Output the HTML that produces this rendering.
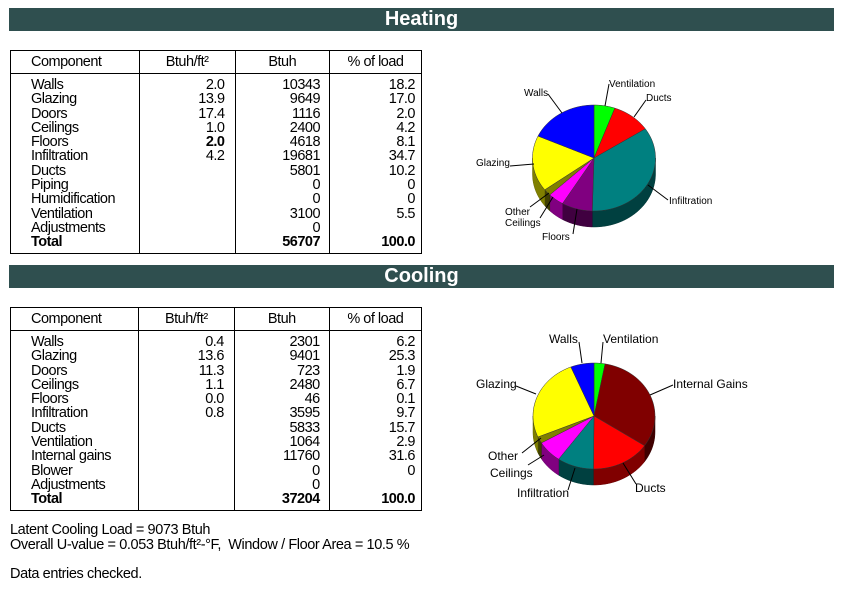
<!DOCTYPE html>
<html><head><meta charset="utf-8"><style>
body{margin:0;width:850px;height:597px;background:#fff;position:relative;overflow:hidden;font-family:"Liberation Sans",Arial,sans-serif;color:#000}
.bar{position:absolute;left:9px;width:825px;height:23px;background:#2f4f4f;color:#fff;font-weight:bold;font-size:20px;text-align:center;line-height:23px}
table{position:absolute;left:10px;border-collapse:collapse;border:1px solid #000;font-size:14.5px;letter-spacing:-0.5px}
td,th{border-left:1px solid #000;border-right:1px solid #000;padding:0;vertical-align:top}
th{font-weight:normal;height:22px;border-bottom:1px solid #000;line-height:22px}
td{line-height:14.3px;padding-top:4px;padding-bottom:3px}
.c0{width:132px;padding-left:20px;text-align:left}
.c1{width:92px;text-align:right}.c2{width:91px;text-align:right}.c3{width:92px;text-align:right}
.c0{box-sizing:border-box}
.note{position:absolute;left:10px;font-size:14.5px;letter-spacing:-0.4px;line-height:14.5px}
svg{position:absolute;left:0;top:0}
svg text{font-family:"Liberation Sans",Arial,sans-serif}
</style></head><body>
<div class="bar" style="top:8px">Heating</div>
<div class="bar" style="top:265px">Cooling</div>
<div id="t1"></div><div id="t2"></div>
<div class="note" style="top:523px">Latent Cooling Load = 9073 Btuh<br>Overall U-value = 0.053 Btuh/ft²-°F,&nbsp; Window / Floor Area = 10.5 %</div>
<div class="note" style="top:567px">Data entries checked.</div>
<svg id="s" width="850" height="597"></svg>
<script>
function tbl(top,rows,tot){
 var c=['','','',''];
 rows.forEach(function(r){for(var i=0;i<4;i++)c[i]+=(r[i]===''?'&nbsp;':r[i])+'<br>';});
 c[0]+='<b>Total</b>';c[1]+='&nbsp;';c[2]+='<b>'+tot[0]+'</b>';c[3]+='<b>'+tot[1]+'</b>';
 return '<table style="top:'+top+'px;width:412px"><tr><th class="c0" style="text-align:left">Component</th><th class="c1" style="text-align:center">Btuh/ft²</th><th class="c2" style="text-align:center">Btuh</th><th class="c3" style="text-align:center">% of load</th></tr><tr><td class="c0">'+c[0]+'</td><td class="c1" style="padding-right:10px">'+c[1]+'</td><td class="c2" style="padding-right:9px">'+c[2]+'</td><td class="c3" style="padding-right:6px">'+c[3]+'</td></tr></table>';
}
document.getElementById('t1').innerHTML=tbl(50,[
['Walls','2.0','10343','18.2'],['Glazing','13.9','9649','17.0'],['Doors','17.4','1116','2.0'],['Ceilings','1.0','2400','4.2'],['Floors','<b>2.0</b>','4618','8.1'],['Infiltration','4.2','19681','34.7'],['Ducts','','5801','10.2'],['Piping','','0','0'],['Humidification','','0','0'],['Ventilation','','3100','5.5'],['Adjustments','','0','']],['56707','100.0']);
document.getElementById('t2').innerHTML=tbl(307,[
['Walls','0.4','2301','6.2'],['Glazing','13.6','9401','25.3'],['Doors','11.3','723','1.9'],['Ceilings','1.1','2480','6.7'],['Floors','0.0','46','0.1'],['Infiltration','0.8','3595','9.7'],['Ducts','','5833','15.7'],['Ventilation','','1064','2.9'],['Internal gains','','11760','31.6'],['Blower','','0','0'],['Adjustments','','0','']],['37204','100.0']);

var svg='';
function shade(h,f){var r=parseInt(h.substr(1,2),16),g=parseInt(h.substr(3,2),16),b=parseInt(h.substr(5,2),16);return 'rgb('+Math.round(r*f)+','+Math.round(g*f)+','+Math.round(b*f)+')';}
function pie(cx,cy,rx,ry,d,sl){
 var tot=0;sl.forEach(function(s){tot+=s[1];});
 var a=0,P=function(t,dy){t=t*Math.PI/180;return (cx+rx*Math.sin(t)).toFixed(2)+','+(cy-ry*Math.cos(t)+(dy||0)).toFixed(2);};
 var segs=[];
 sl.forEach(function(s){var a2=a+s[1]/tot*360;segs.push([a,a2,s[0]]);a=a2;});
 segs.forEach(function(g){var s=Math.max(g[0],90),e=Math.min(g[1],270);if(e<=s)return;
  var p='M'+P(s)+' ';for(var t=s;t<=e;t+=2)p+='L'+P(t)+' ';p+='L'+P(e)+' L'+P(e,d)+' ';
  for(var t=e;t>=s;t-=2)p+='L'+P(t,d)+' ';p+='L'+P(s,d)+'Z';
  svg+='<path d="'+p+'" fill="'+shade(g[2],0.5)+'" stroke="'+shade(g[2],0.4)+'" stroke-width="0.5"/>';});
 segs.forEach(function(g){var p='M'+cx+','+cy+' L'+P(g[0])+' ';for(var t=g[0];t<=g[1];t+=2)p+='L'+P(t)+' ';p+='L'+P(g[1])+'Z';
  svg+='<path d="'+p+'" fill="'+g[2]+'" stroke="#333" stroke-width="0.5"/>';});
}
pie(594,158,61.5,53,16,[['#00ff00',5.5],['#ff0000',10.2],['#008080',34.7],['#800080',8.1],['#ff00ff',4.2],['#808000',2.0],['#ffff00',17.0],['#0000ff',18.2]]);
pie(594,416,61,53,16,[['#00ff00',2.9],['#800000',31.6],['#ff0000',15.7],['#008080',9.7],['#ff00ff',6.7],['#808000',2.0],['#ffff00',25.3],['#0000ff',6.2]]);
function ln(x1,y1,x2,y2){svg+='<line x1="'+x1+'" y1="'+y1+'" x2="'+x2+'" y2="'+y2+'" stroke="#000" stroke-width="1"/>';}
function tx(x,y,s,sz,anc){svg+='<text x="'+x+'" y="'+y+'" font-size="'+sz+'"'+(anc?' text-anchor="'+anc+'"':'')+'>'+s+'</text>';}
ln(605,106,609,84);tx(609,87,'Ventilation',10);
ln(634,117,646,100);tx(646,101,'Ducts',10);
ln(648,185,668,200);tx(669,204,'Infiltration',10);
ln(577,209,573,234);tx(542,240,'Floors',10);
ln(553,197,540,218);tx(505,226,'Ceilings',10);
ln(549,193,530,207);tx(505,215,'Other',10);
ln(534,164,510,166);tx(476,166,'Glazing',10);
ln(562,113,548,94);tx(524,96,'Walls',10);
ln(601,363,603,342);tx(603,343,'Ventilation',12);
ln(582,363,579,342);tx(549,343,'Walls',12);
ln(650,395,673,385);tx(673,388,'Internal Gains',12);
ln(536,394,516,386);tx(476,388,'Glazing',12);
ln(541,438,522,453);tx(488,460,'Other',12);
ln(544,455,528,465);tx(490,477,'Ceilings',12);
ln(575,468,568,490);tx(517,497,'Infiltration',12);
ln(623,463,636,484);tx(635,492,'Ducts',12);
document.getElementById('s').innerHTML=svg;
</script>
</body></html>
